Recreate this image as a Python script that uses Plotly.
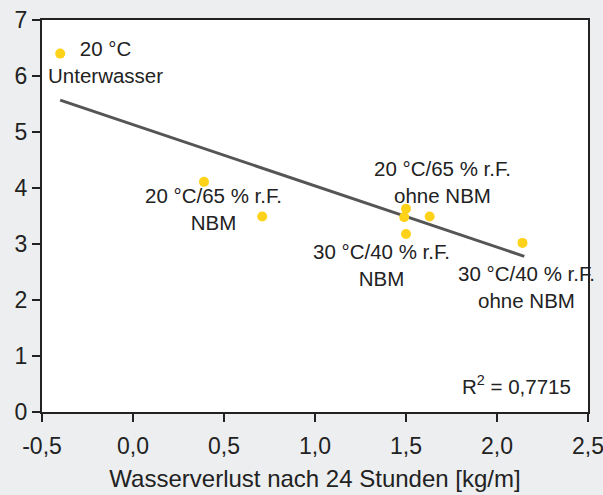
import plotly.graph_objects as go

# Data
water_loss = [-0.40, 0.39, 0.71, 1.50, 1.49, 1.50, 1.63, 2.14]
strength = [6.40, 4.11, 3.49, 3.63, 3.48, 3.18, 3.49, 3.02]

trend_x = [-0.40, 2.15]
trend_y = [5.57, 2.78]

label_text = [
    "20 °C<br>Unterwasser",
    "20 °C/65 % r.F.<br>NBM",
    "20 °C/65 % r.F.<br>ohne NBM",
    "30 °C/40 % r.F.<br>NBM",
    "30 °C/40 % r.F.<br>ohne NBM",
]
label_x = [-0.15, 0.445, 1.70, 1.363, 2.16]
label_y = [6.25, 3.62, 4.11, 2.62, 2.23]

r2_text = "R<sup>2</sup> = 0,7715"
x_ticks = [-0.5, 0.0, 0.5, 1.0, 1.5, 2.0, 2.5]
x_ticktext = ["-0,5", "0,0", "0,5", "1,0", "1,5", "2,0", "2,5"]
y_ticks = [0, 1, 2, 3, 4, 5, 6, 7]
x_title = "Wasserverlust nach 24 Stunden [kg/m]"

FONT = "Liberation Sans, Arial, sans-serif"
BG = "#eceef0"

fig = go.Figure()
fig.add_trace(go.Scatter(
    x=trend_x, y=trend_y, mode="lines",
    line=dict(color="#555555", width=3), hoverinfo="skip",
))
fig.add_trace(go.Scatter(
    x=water_loss, y=strength, mode="markers",
    marker=dict(color="#FFD21A", size=10, line=dict(width=0)),
))

for t, x, y in zip(label_text, label_x, label_y):
    fig.add_annotation(x=x, y=y, text=t, showarrow=False, xanchor="center",
                       yanchor="middle", align="center",
                       font=dict(family=FONT, size=20.5, color="#222222"))

fig.add_annotation(x=2.42, y=0.48, text=r2_text, showarrow=False,
                   xanchor="right", yanchor="middle",
                   font=dict(family=FONT, size=20.5, color="#222222"))

fig.update_layout(
    width=603, height=495,
    margin=dict(l=42, r=15, t=20, b=83),
    paper_bgcolor=BG,
    plot_bgcolor="#ffffff",
    showlegend=False,
    font=dict(family=FONT, size=23, color="#222222"),
)
fig.update_xaxes(
    range=[-0.5, 2.5], tickvals=x_ticks, ticktext=x_ticktext,
    showgrid=False, zeroline=False, automargin=False,
    ticklabeloverflow="allow", ticklabelstandoff=4,
    showline=True, linecolor="#222222", linewidth=2, mirror=True,
    ticks="outside", ticklen=8, tickwidth=2, tickcolor="#222222",
    title=dict(text=x_title, font=dict(size=24), standoff=13),
)
fig.update_yaxes(
    range=[0, 7], tickvals=y_ticks, automargin=False,
    ticklabeloverflow="allow",
    showgrid=False, zeroline=False,
    showline=True, linecolor="#222222", linewidth=2, mirror=True,
    ticks="outside", ticklen=8, tickwidth=2, tickcolor="#222222",
)

fig.write_html(
    "out.html",
    config={"displayModeBar": False},
    post_script="document.body.style.margin='0';"
                "document.body.style.background='" + BG + "';",
)
